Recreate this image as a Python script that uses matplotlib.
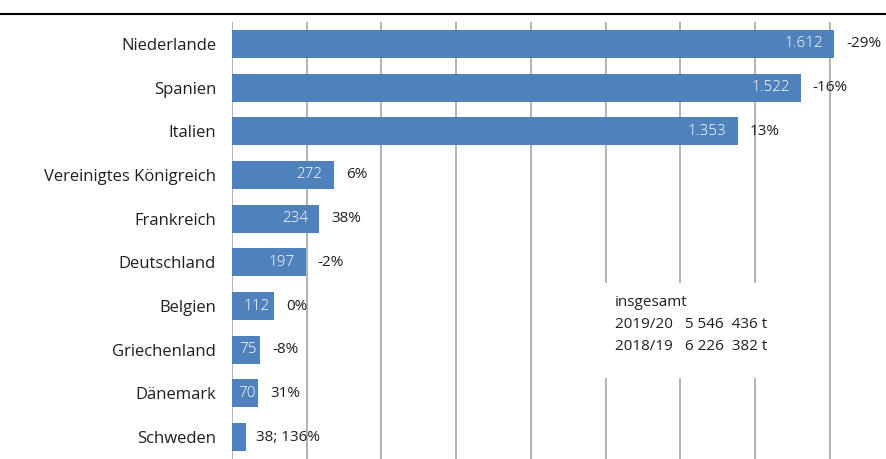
import matplotlib
matplotlib.use('Agg')
import matplotlib.pyplot as plt
from matplotlib.lines import Line2D
from matplotlib.patches import Rectangle

laender = ['Niederlande', 'Spanien', 'Italien', 'Vereinigtes Königreich', 'Frankreich',
           'Deutschland', 'Belgien', 'Griechenland', 'Dänemark', 'Schweden']
werte = [1612, 1522, 1353, 272, 234, 197, 112, 75, 70, 38]
wert_text = ['1.612', '1.522', '1.353', '272', '234', '197', '112', '75', '70', '38']
aenderung = ['-29%', '-16%', '13%', '6%', '38%', '-2%', '0%', '-8%', '31%', '136%']
gitter = [0, 200, 400, 600, 800, 1000, 1200, 1400, 1600]
box_zeilen = ['insgesamt', '2019/20   5 546  436 t', '2018/19   6 226  382 t']

plt.rcParams['font.family'] = ['Open Sans', 'DejaVu Sans']
blau = '#4f81bd'
dunkel = '#1f1f1f'

fig = plt.figure(figsize=(8.86, 4.59), dpi=100)
ax = fig.add_axes([232 / 886, 0, 1 - 232 / 886, 1 - 22 / 459])

y = list(range(len(laender)))
ax.barh(y, werte, height=0.64, color=blau, zorder=2)
for g in gitter:
    ax.axvline(g, color='#a6a6a6', lw=1.2, zorder=1)

ax.set_xlim(0, 1750)
ax.set_ylim(len(laender) - 0.5, -0.5)
ax.set_yticks(y)
ax.set_yticklabels(laender, fontsize=12, color=dunkel)
ax.tick_params(axis='y', length=0, pad=11.5)
ax.set_xticks([])
for s in ax.spines.values():
    s.set_visible(False)

# white box behind the totals, interrupting the gridlines
fig.add_artist(Rectangle((600 / 886, 1 - 378 / 459), 200 / 886, 95 / 459,
                         transform=fig.transFigure, facecolor='white',
                         edgecolor='none', zorder=3))

fig.canvas.draw()
r = fig.canvas.get_renderer()
px = ax.transData.transform((1, 0))[0] - ax.transData.transform((0, 0))[0]
for i, (v, t, a) in enumerate(zip(werte, wert_text, aenderung)):
    if v > 60:
        txt = ax.annotate(t, (v, i), xytext=(-11, 0), textcoords='offset pixels',
                          ha='right', va='center', color='white', fontsize=11,
                          fontweight='light', zorder=3)
        w = txt.get_window_extent(r).width
        pad = min(11, max(2, (v * px - w) * 0.3))
        txt.set_position((-pad, 0))
        ax.annotate(a, (v, i), xytext=(12, 0), textcoords='offset pixels',
                    ha='left', va='center', color=dunkel, fontsize=11, zorder=3)
    else:
        ax.annotate(t + '; ' + a, (v, i), xytext=(10, 0), textcoords='offset pixels',
                    ha='left', va='center', color=dunkel, fontsize=11, zorder=3)

for k, zeile in enumerate(box_zeilen):
    fig.text(615 / 886, 1 - (302 + 22.5 * k) / 459, zeile, fontsize=11,
             color=dunkel, va='center', ha='left', zorder=4)

fig.add_artist(Line2D([0, 1], [1 - 14 / 459, 1 - 14 / 459], color='black', lw=1.5,
                      transform=fig.transFigure))

fig.savefig('out.png', dpi=100)
